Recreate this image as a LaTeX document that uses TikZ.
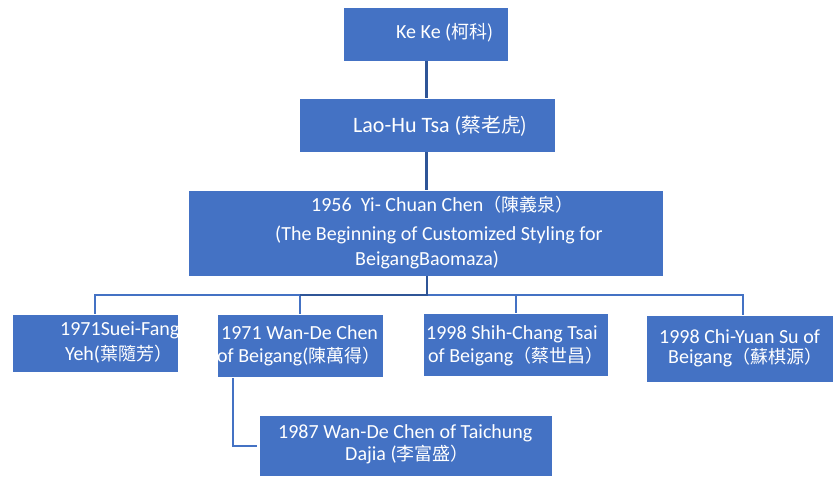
\documentclass[tikz,border=0pt]{standalone}
\usepackage{fontspec}
\setmainfont{Carlito}
\newfontfamily\cjk[Scale=0.9]{Noto Sans CJK TC}
\definecolor{boxblue}{HTML}{4472C4}
\definecolor{lineblue}{HTML}{4472C4}
\definecolor{darkline}{HTML}{2F5597}
\begin{document}
\begin{tikzpicture}[x=1pt,y=-1pt,
  box/.style={rectangle,fill=boxblue,draw=white,line width=0.8pt,inner sep=0pt},
  txt/.style={text=white,inner sep=0pt,anchor=base west,font=\fontsize{20}{24}\selectfont},
  conn/.style={draw=lineblue,line width=2pt},
  darkconn/.style={draw=darkline,line width=2.8pt}]
\useasboundingbox[fill=white] (0,0) rectangle (833,477);
% boxes
\node[box,minimum width=165pt,minimum height=54pt] (kk) at (425.5,34) {};
\node[box,minimum width=256pt,minimum height=54pt] (lh) at (427,125) {};
\node[box,minimum width=475pt,minimum height=86pt] (yc) at (425.5,233) {};
\node[box,minimum width=166pt,minimum height=58pt] (sf) at (95,343) {};
\node[box,minimum width=166pt,minimum height=63pt] (wd) at (300,345.5) {};
\node[box,minimum width=185pt,minimum height=63pt] (sc) at (515.5,344.5) {};
\node[box,minimum width=190pt,minimum height=67pt] (cy) at (741,348.5) {};
\node[box,minimum width=293pt,minimum height=61pt] (wt) at (405.5,445.5) {};
% connectors
\coordinate (bus) at (427,295);
\coordinate (wdl) at (233,378);
\coordinate (wte) at (257,445.5);
\draw[darkconn] (kk.south -| 426.5,0) -- (lh.north -| 426.5,0);
\draw[darkconn] (lh.south -| 426.5,0) -- (yc.north -| 426.5,0);
\draw[conn] (bus) -| (sf.north);
\draw[conn] (bus) -| (sc.north);
\draw[conn] (bus) -| (cy.north -| 743,0);
\draw[conn] (bus) -| (wd.north);
\draw[darkconn] (yc.south -| bus) -- (bus) -- (bus -| wd.north);
\draw[conn] (wdl) |- (wte);
% texts
\node[txt] (kkt) at (396,38) {Ke Ke (\cjk{柯科})};
\node[txt,font=\fontsize{22}{26}\selectfont] (lht) at (353,132) {Lao-Hu Tsa (\cjk{蔡老虎})};
\node[txt] (yct1) at (311,211) {1956\ \ Yi- Chuan Chen\cjk{（陳義泉）}};
\node[txt] (yct2) at (275,240) {(The Beginning of Customized Styling for};
\node[txt] (yct3) at (355,265) {BeigangBaomaza)};
\node[txt] (sft1) at (60,335) {1971Suei-Fang};
\node[txt] (sft2) at (65,360) {Yeh(\cjk{葉隨芳）}};
\node[txt] (wdt1) at (221,339) {1971 Wan-De Chen};
\node[txt] (wdt2) at (217,362) {of Beigang(\cjk{陳萬得）}};
\node[txt] (sct1) at (426,339) {1998 Shih-Chang Tsai};
\node[txt] (sct2) at (428,362) {of Beigang\cjk{（蔡世昌）}};
\node[txt] (cyt1) at (659,343) {1998 Chi-Yuan Su of};
\node[txt] (cyt2) at (668,363) {Beigang\cjk{（蘇棋源）}};
\node[txt] (wtt1) at (278,438) {1987 Wan-De Chen of Taichung};
\node[txt] (wtt2) at (345,460) {Dajia (\cjk{李富盛）}};
\end{tikzpicture}
\end{document}
